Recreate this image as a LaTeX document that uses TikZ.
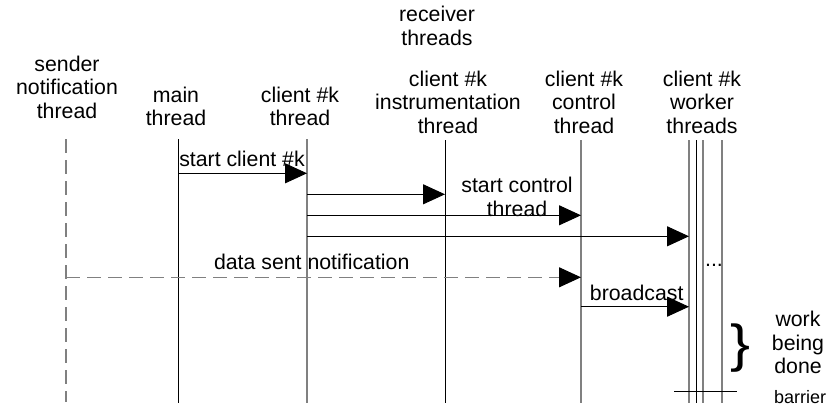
\documentclass[tikz,border=0pt]{standalone}
\usepackage{fontspec}
\setmainfont{Liberation Sans}
\usetikzlibrary{arrows.meta}
\definecolor{lgray}{RGB}{128,128,128}
\begin{document}
\begin{tikzpicture}[x=1pt,y=-1pt,
  lbl/.style={font=\fontsize{21.3}{23.5}\selectfont, inner sep=0pt, align=center, anchor=base},
  small/.style={font=\fontsize{18}{20}\selectfont, inner sep=0pt, anchor=base},
  lifeblack/.style={line width=1pt, black},
  lifegray/.style={line width=1.1pt, lgray},
  dashline/.style={line width=1.1pt, lgray, dash pattern=on 14pt off 7pt},
  msg/.style={line width=1pt, black, -{Triangle[length=22pt,width=20pt]}},
  dmsg/.style={line width=1.1pt, lgray, dash pattern=on 14pt off 7pt, -{Triangle[length=22pt,width=20pt,color=black,fill=black]}}]
\path[use as bounding box] (0,0) rectangle (837,410);

% headers (anchor = baseline of last line)
\node[lbl] (hs) at (67,118.3) {sender\\notification\\thread};
\node[lbl] (hm) at (176,125.5) {main\\thread};
\node[lbl] (hc) at (300,125.5) {client \#k\\thread};
\node[lbl] (hr) at (437,45) {receiver\\threads};
\node[lbl] (hi) at (448,133.3) {client \#k\\instrumentation\\thread};
\node[lbl] (hk) at (584,133.3) {client \#k\\control\\thread};
\node[lbl] (hw) at (702,133.3) {client \#k\\worker\\threads};

% lifelines
\coordinate (sT) at (66,139);  \coordinate (sB) at (66,402);
\coordinate (mT) at (178,139); \coordinate (mB) at (178,403);
\coordinate (cT) at (307,139); \coordinate (cB) at (307,403);
\coordinate (iT) at (445,140); \coordinate (iB) at (445,403);
\coordinate (kT) at (581,140); \coordinate (kB) at (581,403);
\coordinate (w1T) at (689,140); \coordinate (w1B) at (689,403);
\coordinate (w2T) at (696,140); \coordinate (w2B) at (696,403);
\coordinate (w3T) at (703,140); \coordinate (w3B) at (703,403);
\coordinate (w4T) at (722,140); \coordinate (w4B) at (722,403);
\draw[dashline] (sT) -- (sB);
\draw[lifeblack] (mT) -- (mB);
\draw[lifegray] (cT) -- (cB);
\draw[lifeblack] (iT) -- (iB);
\draw[lifegray] (kT) -- (kB);
\draw[lifegray, line width=1.6pt] (w1T) -- (w1B);
\draw[lifeblack] (w2T) -- (w2B);
\draw[lifegray] (w3T) -- (w3B);
\draw[lifegray] (w4T) -- (w4B);

% messages
\coordinate (a1s) at (178,173.3); \coordinate (a1e) at (307,173.3);
\coordinate (a2s) at (307,194.3); \coordinate (a2e) at (445,194.3);
\coordinate (a3s) at (307,215.3); \coordinate (a3e) at (581,215.3);
\coordinate (a4s) at (307,236.3); \coordinate (a4e) at (689,236.3);
\coordinate (a5s) at (66,277.3);  \coordinate (a5e) at (581,277.3);
\coordinate (a6s) at (581,306.7); \coordinate (a6e) at (689,306.7);
\draw[msg] (a1s) -- (a1e);
\draw[msg] (a2s) -- (a2e);
\draw[msg] (a3s) -- (a3e);
\draw[msg] (a4s) -- (a4e);
\draw[dmsg] (a5s) -- (a5e);
\draw[msg] (a6s) -- (a6e);

% message labels
\node[lbl] (l1) at (242,166) {start client \#k};
\node[lbl] (l3) at (517,216) {start control\\thread};
\node[lbl] (l5) at (311.7,269.3) {data sent notification};
\node[lbl] (l6) at (636.7,300) {broadcast};
\node[lbl] (dots) at (714,266) {...};

% brace and work
\node[inner sep=0pt, font=\fontsize{52}{52}\selectfont, xscale=1.15] (brace) at (740.5,348.3) {\}};
\node[lbl] (work) at (798,373.5) {work\\being\\done};

% barrier
\coordinate (brL) at (674,391); \coordinate (brR) at (737,391);
\draw[line width=1pt] (brL) -- (brR);
\node[small] (barrier) at (800,403) {barrier};
\end{tikzpicture}
\end{document}
